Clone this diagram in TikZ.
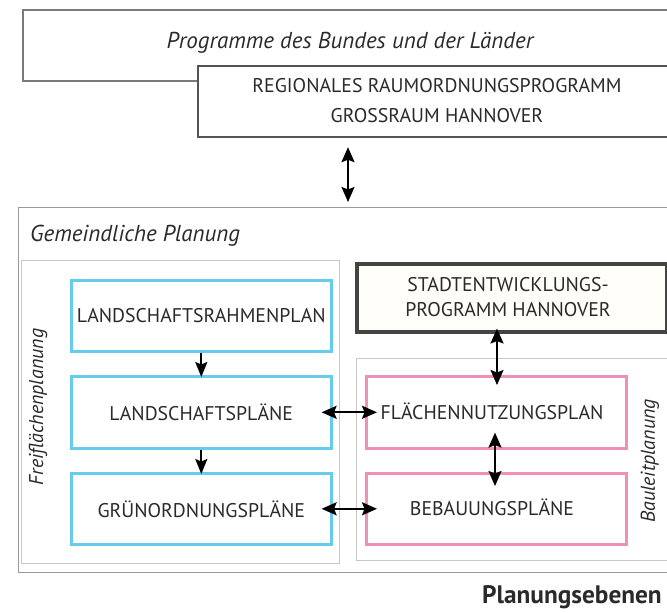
\documentclass[tikz,border=0pt]{standalone}
\usepackage{fontspec}
\setmainfont{PT Sans}
\usetikzlibrary{arrows.meta}
\definecolor{txt}{HTML}{2A2A2A}
\definecolor{cyanline}{HTML}{66CCEE}
\definecolor{pinkline}{HTML}{F090B8}
\definecolor{progline}{HTML}{7A7A7A}
\definecolor{regline}{HTML}{555555}
\definecolor{gemline}{HTML}{9A9A9A}
\definecolor{subline}{HTML}{C8C8C8}
\definecolor{stadtline}{HTML}{444444}
\definecolor{cream}{HTML}{FFFEF8}
\tikzset{
  box/.style={rectangle, inner sep=0pt, anchor=north west},
  progbox/.style={box, draw=progline, line width=2.2pt},
  regbox/.style={box, draw=regline, line width=2.2pt, fill=white},
  gembox/.style={box, draw=gemline, line width=1.2pt},
  subbox/.style={box, draw=subline, line width=0.8pt},
  cyanbox/.style={box, draw=cyanline, line width=2.6pt, fill=white},
  pinkbox/.style={box, draw=pinkline, line width=2.6pt, fill=white},
  stadtbox/.style={box, draw=stadtline, line width=3.5pt, fill=cream},
  lbl/.style={text=txt, inner sep=0pt, font=\fontsize{19.8}{22}\selectfont},
  ital/.style={text=txt, inner sep=0pt, font=\fontsize{23}{26}\selectfont\itshape},
  rotital/.style={text=txt, inner sep=0pt, rotate=90, font=\fontsize{20}{24}\selectfont\itshape},
  dbl/.style={line width=2pt, draw=black, {Stealth[length=15pt,width=13pt,inset=2.5pt]}-{Stealth[length=15pt,width=13pt,inset=2.5pt]}},
  sgl/.style={line width=2pt, draw=black, -{Stealth[length=15pt,width=12pt,inset=2.5pt]}},
}
\begin{document}
\begin{tikzpicture}[x=1pt, y=-1pt]
\useasboundingbox (0,0) rectangle (667,613);
\clip (0,0) rectangle (667,613);
% top boxes
\node[progbox, minimum width=668pt, minimum height=71pt] (prog) at (22,9) {};
\node[ital, anchor=center] (progtxt) at (350,43) {Programme des Bundes und der Länder};
\node[regbox, minimum width=493pt, minimum height=71pt] (reg) at (197,65) {};
\node[lbl, anchor=center] (reg1) at (437,86) {REGIONALES RAUMORDNUNGSPROGRAMM};
\node[lbl, anchor=center] (reg2) at (437,116) {GROSSRAUM HANNOVER};
% municipal planning
\node[gembox, minimum width=672pt, minimum height=365pt] (gem) at (18,207) {};
\node[ital, anchor=west] (gemtxt) at (30,236) {Gemeindliche Planung};
\node[subbox, minimum width=318pt, minimum height=303pt] (frei) at (21,260) {};
\node[rotital, anchor=center] (freitxt) at (38,407) {Freiflächenplanung};
\node[subbox, minimum width=334pt, minimum height=202pt] (baul) at (356,358) {};
\node[rotital, anchor=center] (baultxt) at (650,461) {Bauleitplanung};
% cyan boxes
\node[cyanbox, minimum width=260pt, minimum height=71pt] (lrp) at (70,279) {};
\node[lbl, anchor=center] (lrptxt) at (lrp.center) {LANDSCHAFTSRAHMENPLAN};
\node[cyanbox, minimum width=260pt, minimum height=72pt] (lp) at (70,375) {};
\node[lbl, anchor=center] (lptxt) at (lp.center) {LANDSCHAFTSPLÄNE};
\node[cyanbox, minimum width=260pt, minimum height=71pt] (gr) at (70,472) {};
\node[lbl, anchor=center] (grtxt) at (gr.center) {GRÜNORDNUNGSPLÄNE};
% stadt box
\node[stadtbox, minimum width=310pt, minimum height=68pt] (stadt) at (355,262) {};
\node[lbl, anchor=center] (st1) at (508,285) {STADTENTWICKLUNGS-};
\node[lbl, anchor=center] (st2) at (508,310) {PROGRAMM HANNOVER};
% pink boxes
\node[pinkbox, minimum width=260pt, minimum height=72pt] (fnp) at (365,375) {};
\node[lbl, anchor=center] (fnptxt) at (492,411) {FLÄCHENNUTZUNGSPLAN};
\node[pinkbox, minimum width=260pt, minimum height=71pt] (beb) at (365,472) {};
\node[lbl, anchor=center] (bebtxt) at (492,507) {BEBAUUNGSPLÄNE};
% title
\node[text=txt, inner sep=0pt, anchor=base west, font=\fontsize{25.3}{28}\selectfont\bfseries] (title) at (482,603) {Planungsebenen};
% connectors
\coordinate (xa) at (348,0);
\coordinate (xb) at (497,0);
\coordinate (xc) at (495,0);
\draw[dbl, shorten <=9pt, shorten >=5pt] (reg.south -| xa) -- (gem.north -| xa);
\draw[sgl, shorten >=-2pt] (lrp.south) -- (lp.north);
\draw[sgl, shorten >=-2pt] (lp.south) -- (gr.north);
\draw[dbl, shorten <=-11pt, shorten >=-12pt] (lp.east) -- (lp.east -| fnp.west);
\draw[dbl, shorten <=-11pt, shorten >=-12pt] (gr.east) -- (gr.east -| beb.west);
\draw[dbl, shorten <=-5pt, shorten >=-10pt] (stadt.south -| xb) -- (fnp.north -| xb);
\draw[dbl, shorten <=-17pt, shorten >=-14pt] (fnp.south -| xc) -- (beb.north -| xc);
\end{tikzpicture}
\end{document}
